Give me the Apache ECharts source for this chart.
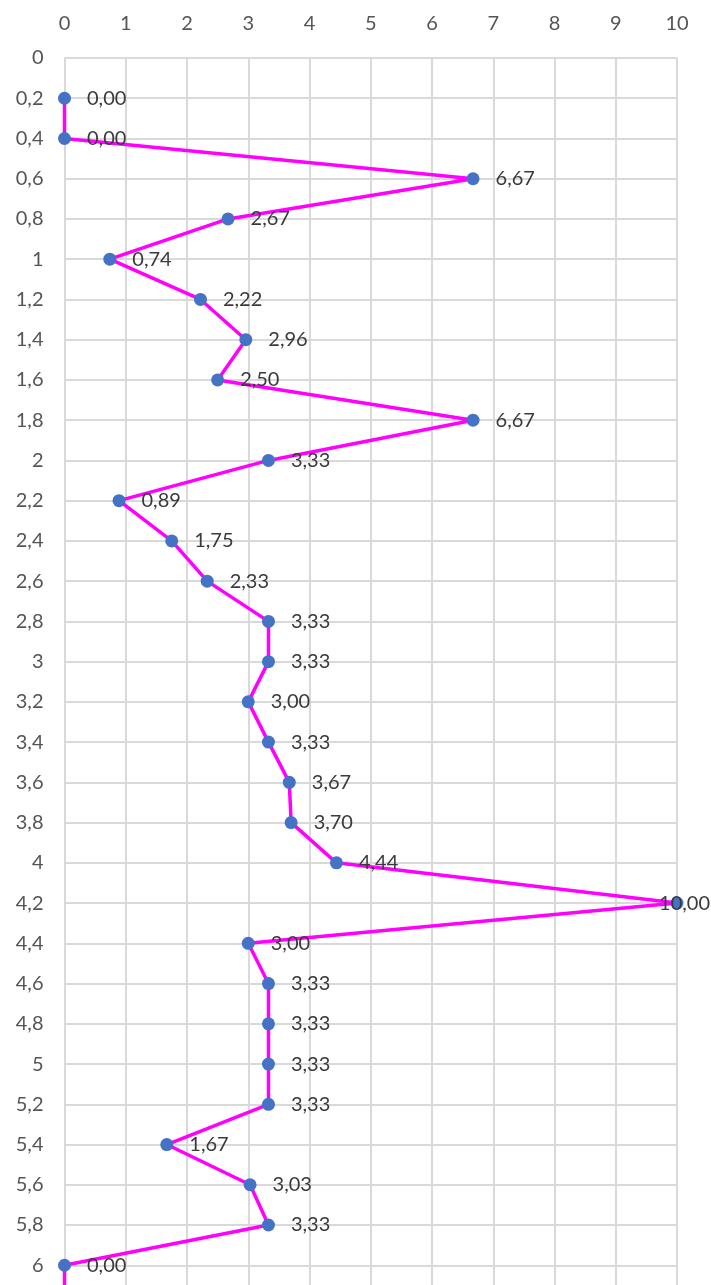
<!DOCTYPE html>
<html>
<head>
<meta charset="utf-8">
<script src="https://cdn.jsdelivr.net/npm/echarts@6/dist/echarts.min.js"></script>
<style>
  html, body { margin: 0; padding: 0; background: #ffffff; }
  #chart { width: 711px; height: 1285px; }
</style>
</head>
<body>
<div id="chart"></div>
<script>
// Depth positions (vertical axis, top to bottom)
const depths = [0.2, 0.4, 0.6, 0.8, 1.0, 1.2, 1.4, 1.6, 1.8, 2.0,
                2.2, 2.4, 2.6, 2.8, 3.0, 3.2, 3.4, 3.6, 3.8, 4.0,
                4.2, 4.4, 4.6, 4.8, 5.0, 5.2, 5.4, 5.6, 5.8, 6.0, 6.2];
// Measured value at each depth
const values = [0.00, 0.00, 6.67, 2.67, 0.74, 2.22, 2.96, 2.50, 6.67, 3.33,
                0.89, 1.75, 2.33, 3.33, 3.33, 3.00, 3.33, 3.67, 3.70, 4.44,
                10.00, 3.00, 3.33, 3.33, 3.33, 3.33, 1.67, 3.03, 3.33, 0.00, 0.00];
// Axis ranges
const xTicks = { min: 0, max: 10, step: 1 };
const yTicks = { min: 0, max: 6.2, step: 0.2 };

const FONT = 'Lato';
const W = 711;

const fmtComma = (v, d) => v.toFixed(d).replace('.', ',');
const fmtTick = v => {
  const r = Math.round(v * 10) / 10;
  return String(r).replace('.', ',');
};

const chart = echarts.init(document.getElementById('chart'), null, { renderer: 'canvas' });

chart.setOption({
  animation: false,
  backgroundColor: '#ffffff',
  grid: {
    left: 64.5, top: 58, width: 612.5, height: 1247.5,
    containLabel: false,
    outerBoundsMode: 'none'
  },
  xAxis: {
    type: 'value',
    position: 'top',
    min: xTicks.min, max: xTicks.max, interval: xTicks.step,
    axisLine: { show: false },
    axisTick: { show: false },
    axisLabel: { color: '#555555', fontFamily: FONT, fontSize: 20, margin: 24 },
    splitLine: { show: true, lineStyle: { color: '#d9d9d9', width: 2 } }
  },
  yAxis: {
    type: 'value',
    inverse: true,
    min: yTicks.min, max: yTicks.max, interval: yTicks.step,
    axisLine: { show: false },
    axisTick: { show: false },
    axisLabel: {
      color: '#555555', fontFamily: FONT, fontSize: 20, margin: 21,
      formatter: v => (v > 6.05 ? '' : fmtTick(v))
    },
    splitLine: { show: true, lineStyle: { color: '#d9d9d9', width: 2 } }
  },
  series: [{
    type: 'line',
    data: depths.map((d, i) => [values[i], d]),
    symbol: 'circle',
    symbolSize: 13,
    lineStyle: { color: '#ff00ff', width: 3.5 },
    itemStyle: { color: '#4472c4' },
    label: {
      show: true,
      position: 'right',
      distance: 16,
      color: '#3a3a3a',
      fontFamily: FONT,
      fontSize: 20,
      formatter: p => fmtComma(p.value[0], 2)
    },
    labelLayout: p => {
      const r = p.labelRect;
      if (r.x + r.width > W) {
        return { x: W - r.width - 1, y: r.y + r.height / 2, align: 'left', verticalAlign: 'middle' };
      }
      return {};
    },
    z: 3
  }]
});
</script>
</body>
</html>
